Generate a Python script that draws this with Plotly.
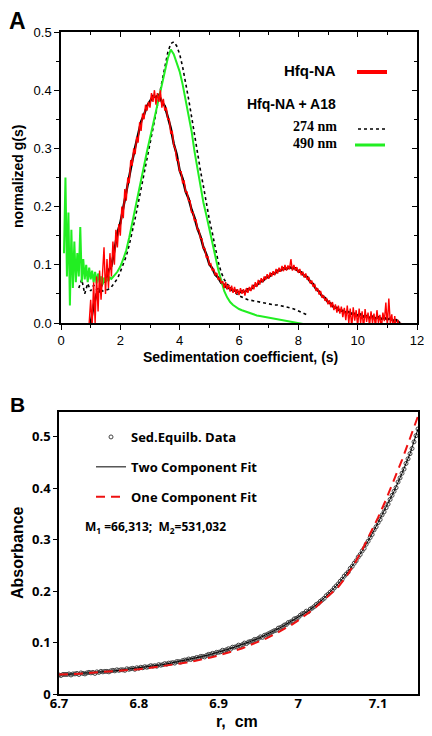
import numpy as np
import plotly.graph_objects as go

# ---------------- Panel A data (sedimentation coefficient distributions) ----------------
# Hfq-NA, red noisy trace: s grid from 0.95, step 0.05
hfq_red_s_start, hfq_red_s_step = 0.95, 0.05
hfq_red_g = [
    0.0, 0.04, -0.005, 0.07, 0.0, 0.08, 0.02, 0.09, 0.04, 0.10,
    0.13, 0.05, 0.11, 0.06, 0.12, 0.08, 0.14, 0.10, 0.16, 0.13,
    0.17, 0.15, 0.20, 0.18, 0.23, 0.21, 0.25, 0.24, 0.28, 0.27,
    0.30, 0.29, 0.32, 0.31, 0.345, 0.33, 0.36, 0.35, 0.375, 0.365,
    0.38, 0.37, 0.395, 0.38, 0.40, 0.375, 0.395, 0.38, 0.40, 0.37,
    0.385, 0.365, 0.37, 0.35, 0.35, 0.325, 0.33, 0.305, 0.30, 0.28,
    0.28, 0.26, 0.26, 0.24, 0.245, 0.225, 0.225, 0.21, 0.21, 0.19,
    0.19, 0.175, 0.178, 0.16, 0.16, 0.145, 0.145, 0.128, 0.128, 0.112,
    0.115, 0.10, 0.102, 0.09, 0.093, 0.082, 0.086, 0.074, 0.078, 0.068,
    0.072, 0.06, 0.07, 0.058, 0.066, 0.054, 0.064, 0.052, 0.062, 0.05,
    0.058, 0.048, 0.06, 0.05, 0.058, 0.047, 0.06, 0.052, 0.062, 0.055,
    0.066, 0.058, 0.07, 0.062, 0.074, 0.066, 0.077, 0.07, 0.08, 0.074,
    0.084, 0.076, 0.087, 0.08, 0.089, 0.082, 0.093, 0.085, 0.095, 0.088,
    0.098, 0.089, 0.1, 0.09, 0.099, 0.092, 0.11, 0.09, 0.1, 0.09,
    0.096, 0.086, 0.093, 0.082, 0.088, 0.078, 0.085, 0.074, 0.079, 0.068,
    0.073, 0.062, 0.067, 0.055, 0.06, 0.049, 0.055, 0.043, 0.048, 0.038,
    0.043, 0.032, 0.039, 0.027, 0.036, 0.022, 0.032, 0.018, 0.03, 0.016,
    0.028, 0.01, 0.026, 0.005, 0.03, 0.0, 0.025, -0.008, 0.027, 0.004,
    0.022, -0.006, 0.025, 0.0, 0.02, -0.01, 0.024, 0.002, 0.018, -0.005,
    0.02, 0.0, 0.016, -0.008, 0.022, 0.0, 0.014, -0.01, 0.018, 0.003,
    0.035, -0.005, 0.042, 0.0, 0.015, -0.012, 0.012, -0.015, 0.006, -0.01,
    0.0, -0.01,
]

# Hfq-NA, black trace: s grid from 1.0, step 0.1
hfq_black_s_start, hfq_black_s_step = 1.0, 0.1
hfq_black_g = [
    0.0, 0.03, 0.05, 0.055, 0.07, 0.072, 0.09, 0.098, 0.125, 0.155,
    0.172, 0.20, 0.226, 0.256, 0.278, 0.302, 0.322, 0.346, 0.358, 0.373,
    0.381, 0.39, 0.388, 0.392, 0.38, 0.373, 0.354, 0.335, 0.308, 0.29,
    0.262, 0.248, 0.226, 0.214, 0.195, 0.181, 0.162, 0.149, 0.13, 0.118,
    0.101, 0.094, 0.083, 0.078, 0.069, 0.066, 0.06, 0.06, 0.055, 0.056,
    0.052, 0.055, 0.053, 0.058, 0.058, 0.064, 0.065, 0.071, 0.072, 0.078,
    0.079, 0.084, 0.085, 0.09, 0.09, 0.094, 0.093, 0.096, 0.094, 0.094,
    0.089, 0.087, 0.081, 0.079, 0.071, 0.067, 0.058, 0.054, 0.046, 0.043,
    0.036, 0.033, 0.027, 0.026, 0.021, 0.021, 0.018, 0.019, 0.016, 0.016,
    0.013, 0.015, 0.011, 0.012, 0.009, 0.011, 0.008, 0.01, 0.007, 0.009,
    0.006, 0.008, 0.004, 0.005, 0.001, -0.02,
]

# Hfq-NA + A18 at 274 nm (dotted): s grid from 0.6, step 0.1
a18_274_s_start, a18_274_s_step = 0.6, 0.1
a18_274_g = [
    0.06, 0.075, 0.05, 0.068, 0.055, 0.065, 0.058, 0.06, 0.055, 0.057,
    0.058, 0.062, 0.068, 0.076, 0.088, 0.1, 0.115, 0.134, 0.155, 0.18,
    0.205, 0.23, 0.255, 0.28, 0.305, 0.333, 0.36, 0.388, 0.415, 0.442,
    0.465, 0.48, 0.483, 0.476, 0.462, 0.44, 0.415, 0.385, 0.355, 0.322,
    0.29, 0.262, 0.235, 0.205, 0.178, 0.155, 0.128, 0.105, 0.087, 0.075,
    0.067, 0.061, 0.056, 0.051, 0.047, 0.044, 0.042, 0.04, 0.039, 0.037,
    0.036, 0.035, 0.034, 0.034, 0.033, 0.032, 0.031, 0.031, 0.030, 0.029,
    0.028, 0.027, 0.025, 0.023, 0.021, 0.019, 0.016, 0.014,
]

# Hfq-NA + A18 at 490 nm (green): noisy low-s part (step 0.05) and main part (step 0.1)
a18_490_lo_s_start, a18_490_lo_s_step = 0.10, 0.05
a18_490_lo_g = [
    0.12, 0.25, 0.08, 0.19, 0.03, 0.16, 0.06, 0.14, 0.07, 0.12,
    0.08, 0.165, 0.07, 0.11, 0.075, 0.10, 0.07, 0.095, 0.075, 0.09,
    0.07, 0.088, 0.068, 0.085, 0.07, 0.08, 0.066, 0.078, 0.07, 0.077,
    0.072, 0.078, 0.076, 0.08,
]
a18_490_hi_s_start, a18_490_hi_s_step = 1.8, 0.1
a18_490_hi_g = [
    0.082, 0.088, 0.097, 0.11, 0.125, 0.147, 0.172, 0.198, 0.224, 0.25,
    0.272, 0.295, 0.318, 0.342, 0.363, 0.386, 0.41, 0.432, 0.455, 0.47,
    0.462, 0.448, 0.432, 0.41, 0.383, 0.358, 0.33, 0.295, 0.263, 0.232,
    0.207, 0.185, 0.16, 0.138, 0.115, 0.092, 0.072, 0.055, 0.044, 0.036,
    0.031, 0.027, 0.024, 0.022, 0.020, 0.018, 0.016, 0.015, 0.013, 0.012,
    0.011, 0.010, 0.009, 0.008, 0.007, 0.006, 0.005, 0.005, 0.004, 0.003,
    0.002, 0.001, 0.0, -0.001, -0.002, -0.003,
]

a_x_ticks = [0, 2, 4, 6, 8, 10, 12]
a_y_ticks = [0.0, 0.1, 0.2, 0.3, 0.4, 0.5]

# ---------------- Panel B data (sedimentation equilibrium) ----------------
sed_r_start, sed_r_step = 6.70, 0.0025
sed_abs = [
    0.037, 0.036, 0.038, 0.038, 0.038, 0.039, 0.037, 0.039,
    0.039, 0.040, 0.038, 0.041, 0.040, 0.039, 0.041, 0.042,
    0.041, 0.042, 0.040, 0.043, 0.042, 0.044, 0.043, 0.044,
    0.044, 0.043, 0.045, 0.046, 0.045, 0.047, 0.046, 0.047,
    0.047, 0.046, 0.049, 0.048, 0.049, 0.050, 0.048, 0.051,
    0.050, 0.052, 0.051, 0.053, 0.052, 0.053, 0.055, 0.054,
    0.055, 0.054, 0.057, 0.056, 0.057, 0.059, 0.058, 0.060,
    0.060, 0.061, 0.060, 0.063, 0.063, 0.062, 0.065, 0.066,
    0.066, 0.068, 0.067, 0.069, 0.069, 0.071, 0.070, 0.073,
    0.073, 0.072, 0.075, 0.077, 0.077, 0.079, 0.078, 0.081,
    0.081, 0.082, 0.085, 0.084, 0.086, 0.088, 0.087, 0.091,
    0.091, 0.092, 0.095, 0.094, 0.096, 0.099, 0.098, 0.101,
    0.102, 0.103, 0.106, 0.106, 0.108, 0.111, 0.110, 0.114,
    0.115, 0.117, 0.119, 0.121, 0.123, 0.124, 0.128, 0.129,
    0.131, 0.134, 0.135, 0.139, 0.140, 0.142, 0.146, 0.147,
    0.149, 0.153, 0.156, 0.157, 0.161, 0.160, 0.165, 0.167,
    0.170, 0.174, 0.176, 0.180, 0.183, 0.186, 0.191, 0.194,
    0.198, 0.201, 0.206, 0.210, 0.214, 0.219, 0.223, 0.229,
    0.233, 0.237, 0.244, 0.248, 0.254, 0.259, 0.266, 0.271,
    0.278, 0.283, 0.291, 0.297, 0.304, 0.310, 0.319, 0.325,
    0.333, 0.339, 0.348, 0.354, 0.362, 0.369, 0.378, 0.386,
    0.394, 0.401, 0.412, 0.420, 0.429, 0.437, 0.448, 0.457,
    0.467, 0.477, 0.490, 0.502, 0.515,
]
fit_r_start, fit_r_step = 6.70, 0.01
two_comp_fit = [
    0.037, 0.038, 0.039, 0.040, 0.041, 0.042, 0.044, 0.045, 0.047, 0.049,
    0.050, 0.052, 0.055, 0.057, 0.060, 0.063, 0.066, 0.069, 0.073, 0.077,
    0.081, 0.086, 0.091, 0.096, 0.102, 0.108, 0.115, 0.123, 0.131, 0.140,
    0.149, 0.159, 0.170, 0.183, 0.198, 0.214, 0.233, 0.254, 0.278, 0.304,
    0.333, 0.362, 0.394, 0.429, 0.467, 0.515,
]
one_comp_fit = [
    0.038, 0.038, 0.039, 0.040, 0.041, 0.042, 0.043, 0.044, 0.045, 0.047,
    0.048, 0.050, 0.052, 0.054, 0.056, 0.058, 0.061, 0.064, 0.067, 0.071,
    0.075, 0.079, 0.084, 0.089, 0.095, 0.101, 0.108, 0.116, 0.124, 0.133,
    0.143, 0.154, 0.166, 0.180, 0.194, 0.208, 0.228, 0.252, 0.280, 0.310,
    0.343, 0.378, 0.415, 0.455, 0.497, 0.540,
]
b_x_ticks = [6.7, 6.8, 6.9, 7.0, 7.1]
b_x_ticktext = ["6.7", "6.8", "6.9", "7", "7.1"]
b_y_ticks = [0, 0.1, 0.2, 0.3, 0.4, 0.5]
b_y_ticktext = ["0", "0.1", "0.2", "0.3", "0.4", "0.5"]


def grid(start, step, n):
    return np.round(start + step * np.arange(n), 4)


# the page body adds an 8px margin, so the figure is 8px smaller than the window
# and positions (given in window pixels) are shifted by that margin
OFF = 8
W, H = 432 - OFF, 736 - OFF


def px(x):
    return (x - OFF) / W


def py(y):
    return 1 - (y - OFF) / H


SANS = "Liberation Sans"
SERIF = "Liberation Serif"
SEGOE = "Open Sans"

fig = go.Figure()

# ---- Panel A traces ----
fig.add_trace(go.Scatter(
    x=grid(hfq_black_s_start, hfq_black_s_step, len(hfq_black_g)), y=hfq_black_g,
    mode="lines", line=dict(color="black", width=2.4), showlegend=False,
    xaxis="x", yaxis="y"))
fig.add_trace(go.Scatter(
    x=grid(a18_274_s_start, a18_274_s_step, len(a18_274_g)), y=a18_274_g,
    mode="lines", line=dict(color="black", width=1.6, dash="dot"), showlegend=False,
    xaxis="x", yaxis="y"))
green_s = np.concatenate([grid(a18_490_lo_s_start, a18_490_lo_s_step, len(a18_490_lo_g)),
                          grid(a18_490_hi_s_start, a18_490_hi_s_step, len(a18_490_hi_g))])
fig.add_trace(go.Scatter(
    x=green_s, y=a18_490_lo_g + a18_490_hi_g,
    mode="lines", line=dict(color="#22ee22", width=2), showlegend=False,
    xaxis="x", yaxis="y"))
fig.add_trace(go.Scatter(
    x=grid(hfq_red_s_start, hfq_red_s_step, len(hfq_red_g)), y=hfq_red_g,
    mode="lines", line=dict(color="#ff0000", width=1.4), showlegend=False,
    xaxis="x", yaxis="y"))
# dummy trace so the mirrored (inside-tick) axes get drawn
fig.add_trace(go.Scatter(x=[None], y=[None], xaxis="x3", yaxis="y3",
                         showlegend=False, hoverinfo="skip"))

# legend keys for panel A (labels are drawn as annotations to their left)
fig.add_trace(go.Scatter(x=[None], y=[None], mode="lines", name=" ",
                         line=dict(color="#ff0000", width=4), legend="legend",
                         showlegend=True, xaxis="x", yaxis="y"))
fig.add_trace(go.Scatter(x=[None], y=[None], mode="lines", name=" ",
                         line=dict(color="black", width=1.6, dash="dot"), legend="legend2",
                         showlegend=True, xaxis="x", yaxis="y"))
fig.add_trace(go.Scatter(x=[None], y=[None], mode="lines", name=" ",
                         line=dict(color="#22ee22", width=3), legend="legend3",
                         showlegend=True, xaxis="x", yaxis="y"))

# ---- Panel B traces ----
fig.add_trace(go.Scatter(
    x=grid(sed_r_start, sed_r_step, len(sed_abs)), y=sed_abs,
    mode="markers", name="Sed.Equilb. Data",
    marker=dict(symbol="circle-open", size=4, color="#444444", line=dict(width=1)),
    legend="legend4", legendgroup="d", xaxis="x2", yaxis="y2"))
fig.add_trace(go.Scatter(
    x=grid(fit_r_start, fit_r_step, len(two_comp_fit)), y=two_comp_fit,
    mode="lines", name="Two Component Fit", line=dict(color="black", width=1),
    legend="legend4", legendgroup="t", xaxis="x2", yaxis="y2"))
fig.add_trace(go.Scatter(
    x=grid(fit_r_start, fit_r_step, len(one_comp_fit)), y=one_comp_fit,
    mode="lines", name="One Component Fit", line=dict(color="#ee1111", width=2, dash="9px,6px"),
    legend="legend4", legendgroup="o", xaxis="x2", yaxis="y2"))

axA_common = dict(showgrid=False, zeroline=False, showline=True, linecolor="black",
                  linewidth=1.5, tickcolor="black", tickwidth=1.3, automargin=False)

fig.update_layout(
    template="none",
    width=W, height=H,
    margin=dict(l=0, r=0, t=0, b=0, pad=0, autoexpand=False),
    paper_bgcolor="white", plot_bgcolor="white",
    xaxis=dict(domain=[px(61), px(417)], anchor="y", range=[0, 12],
               tickvals=a_x_ticks, ticks="outside", ticklen=5,
               minor=dict(dtick=1, tick0=0, ticks="outside", ticklen=3, tickcolor="black", tickwidth=1.3),
               tickfont=dict(family=SANS, size=13, color="black"), **axA_common),
    yaxis=dict(domain=[py(323), py(32)], anchor="x", range=[0, 0.5],
               tickvals=a_y_ticks, tickformat=".1f", ticks="outside", ticklen=5,
               minor=dict(dtick=0.05, tick0=0, ticks="outside", ticklen=3, tickcolor="black", tickwidth=1.3),
               tickfont=dict(family=SANS, size=13, color="black"), **axA_common),
    xaxis3=dict(overlaying="x", anchor="y3", side="top", range=[0, 12],
                tickvals=a_x_ticks, ticks="inside", ticklen=5, showticklabels=False,
                minor=dict(dtick=1, tick0=0, ticks="inside", ticklen=3, tickcolor="black", tickwidth=1.3),
                **axA_common),
    yaxis3=dict(overlaying="y", anchor="x3", side="right", range=[0, 0.5],
                tickvals=a_y_ticks, ticks="inside", ticklen=5, showticklabels=False,
                minor=dict(dtick=0.05, tick0=0, ticks="inside", ticklen=3, tickcolor="black", tickwidth=1.3),
                **axA_common),
    xaxis2=dict(domain=[px(59), px(418)], anchor="y2", range=[6.7, 7.15],
                tickvals=b_x_ticks, ticktext=b_x_ticktext, ticks="", automargin=False,
                ticklabelstandoff=-3,
                showgrid=False, zeroline=False, showline=True, mirror=True,
                linecolor="black", linewidth=1.5,
                tickfont=dict(family=SEGOE, size=13, color="black", weight="bold")),
    yaxis2=dict(domain=[py(694), py(412)], anchor="x2", range=[0, 0.548],
                tickvals=b_y_ticks, ticktext=b_y_ticktext, ticks="outside", ticklen=4,
                tickcolor="black", tickwidth=1.3, automargin=False,
                showgrid=False, zeroline=False, showline=True, mirror=True,
                linecolor="black", linewidth=1.5,
                tickfont=dict(family=SEGOE, size=13, color="black", weight="bold")),
    legend=dict(x=px(352), y=py(72), xanchor="left", yanchor="middle",
                bgcolor="rgba(0,0,0,0)", borderwidth=0, font=dict(size=9)),
    legend2=dict(x=px(353), y=py(129), xanchor="left", yanchor="middle",
                 bgcolor="rgba(0,0,0,0)", borderwidth=0, font=dict(size=9)),
    legend3=dict(x=px(350), y=py(145), xanchor="left", yanchor="middle",
                 bgcolor="rgba(0,0,0,0)", borderwidth=0, font=dict(size=9)),
    legend4=dict(x=px(91), y=py(422), xanchor="left", yanchor="top",
                 bgcolor="rgba(0,0,0,0)", borderwidth=0, tracegroupgap=10,
                 font=dict(family=SEGOE, size=13, color="black", weight="bold")),
    showlegend=True,
)

ann = [
    dict(text="A", x=px(17), y=py(21), borderpad=0,
         font=dict(family=SANS, size=23, color="black", weight="bold")),
    dict(text="B", x=px(17), y=py(405), font=dict(family=SANS, size=21, color="black", weight="bold")),
    dict(text="normalized g(s)", x=px(18), y=py(177), textangle=-90,
         font=dict(family=SANS, size=14, color="black", weight="bold")),
    dict(text="Sedimentation coefficient, (s)", x=px(240), y=py(357),
         font=dict(family=SANS, size=14, color="black", weight="bold")),
    dict(text="Absorbance", x=px(17), y=py(553), textangle=-90,
         font=dict(family=SANS, size=16, color="black", weight="bold")),
    dict(text="r,  cm", x=px(237), y=py(721),
         font=dict(family=SANS, size=16, color="black", weight="bold")),
    dict(text="Hfq-NA", x=px(338), y=py(70), xanchor="right",
         font=dict(family=SANS, size=15, color="black", weight="bold")),
    dict(text="Hfq-NA + A18", x=px(338), y=py(104), xanchor="right",
         font=dict(family=SANS, size=14, color="black", weight="bold")),
    dict(text="274 nm", x=px(339), y=py(127), xanchor="right",
         font=dict(family=SERIF, size=14, color="black", weight="bold")),
    dict(text="490 nm", x=px(339), y=py(143), xanchor="right",
         font=dict(family=SERIF, size=14, color="black", weight="bold")),
    dict(text="M<sub>1</sub> =66,313;  M<sub>2</sub>=531,032", x=px(83), y=py(527), xanchor="left",
         font=dict(family=SEGOE, size=12, color="black", weight="bold")),
]
for a in ann:
    a.setdefault("xanchor", "center")
    fig.add_annotation(xref="paper", yref="paper", showarrow=False, yanchor="middle", **a)

fig.write_html("out.html")
